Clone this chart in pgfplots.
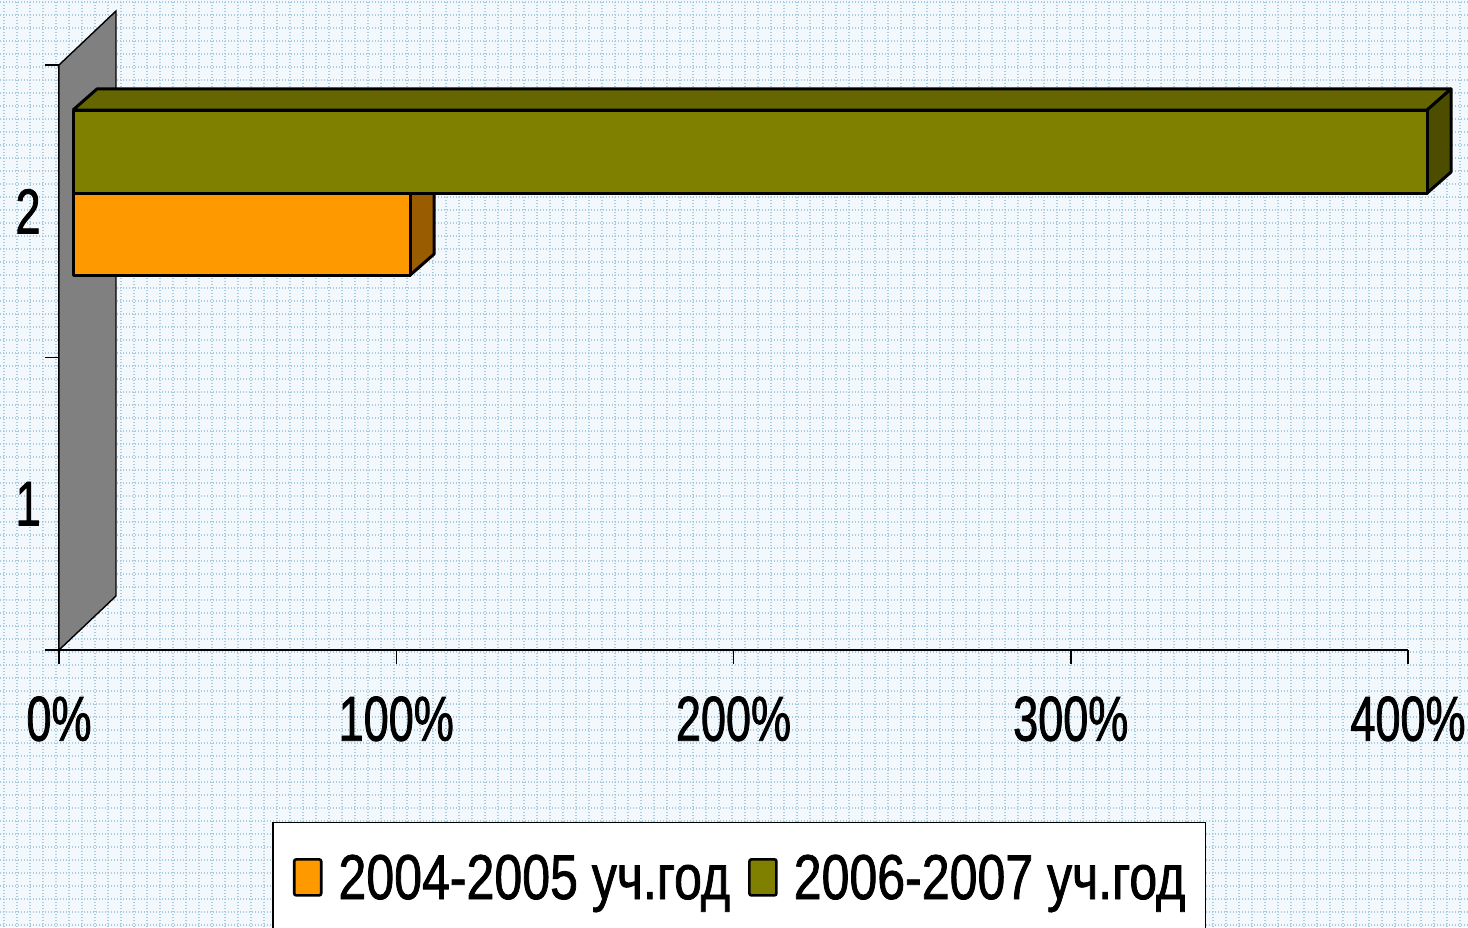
\documentclass[border=0pt]{standalone}
\usepackage{fontspec}
\setmainfont{Liberation Sans}[FakeStretch=0.79, FakeBold=1.2]
\newfontfamily\tickfamily{Liberation Sans}[FakeStretch=0.71, FakeBold=1.2]
\usepackage{pgfplots}
\pgfplotsset{compat=1.18}
\definecolor{bgc}{HTML}{F2F8FC}
\definecolor{gridc}{HTML}{A9CCE0}
\definecolor{orangeF}{HTML}{FF9900}
\definecolor{orangeS}{HTML}{995C00}
\definecolor{oliveF}{HTML}{808000}
\definecolor{oliveT}{HTML}{666600}
\definecolor{oliveS}{HTML}{4D4D00}
\definecolor{wallc}{HTML}{808080}
\newcommand{\bigf}{\fontsize{31.7pt}{38pt}\selectfont}
\newcommand{\tickf}{\tickfamily\fontsize{31.7pt}{38pt}\selectfont}
\begin{document}
\begin{tikzpicture}
\useasboundingbox (0,0) rectangle (734pt,463.5pt);
\clip (0,0) rectangle (734pt,463.5pt);
\fill[bgc] (0,0) rectangle (734pt,463.5pt);
\foreach \i in {0,...,113} \draw[gridc, line width=0.7pt, dash pattern=on 0.5pt off 1pt] (\i*6.5pt+2pt,0) -- (\i*6.5pt+2pt,463.5pt);
\foreach \j in {0,...,72} \draw[gridc, line width=0.7pt, dash pattern=on 0.5pt off 1pt] (0,\j*6.5pt+1pt) -- (734pt,\j*6.5pt+1pt);
\begin{axis}[
  at={(29.5pt,138.5pt)}, anchor=south west,
  scale only axis, width=674.5pt, height=292.5pt,
  xmin=0, xmax=400, ymin=0.5, ymax=2.5,
  clip=false,
  axis x line*=bottom, axis y line*=left,
  axis line style={black, line width=0.75pt},
  xtick={0,100,200,300,400},
  xticklabels={0\%,100\%,200\%,300\%,400\%},
  ytick={0.5,1.5,2.5}, yticklabels={},
  extra y ticks={1,2}, extra y tick labels={1,2},
  extra y tick style={major tick length=0pt},
  tick align=outside, major tick length=7pt,
  tick style={black, line width=0.75pt},
  /pgf/number format/assume math mode=true,
  tick label style={font=\tickf},
  xticklabel style={inner sep=0pt, yshift=-16pt},
  yticklabel style={inner sep=0pt, xshift=-9pt},
  legend image code/.code={\draw[#1, line width=1.3pt, rounded corners=1pt] (0pt,-8.5pt) rectangle (13.5pt,9.5pt);},
  legend columns=2,
  legend style={at={(0.158,-0.294)}, anchor=north west, draw=black, line width=0.75pt, fill=white,
    font=\bigf, inner xsep=10pt, inner ysep=16pt, nodes={inner sep=0pt},
    /tikz/every odd column/.append style={column sep=8pt},
    /tikz/every even column/.append style={column sep=9pt}},
]
% back wall
\addplot[forget plot, fill=wallc, draw=black, line width=0.7pt] coordinates {(0,0.5) (0,2.5) (16.9,2.6846) (16.9,0.6846) (0,0.5)};
% 2004-2005 bar
\addplot[forget plot, fill=orangeS, draw=black, line width=1.5pt, line join=round] coordinates {(104.15,2.062) (111.25,2.134) (111.25,1.854) (104.15,1.782) (104.15,2.062)};
\addplot[forget plot, xbar, bar width=41.5pt, bar shift=-11.4pt, fill=orangeF, draw=black, line width=1.5pt, line join=round, transform canvas={xshift=7pt}] coordinates {(100,2)};
% 2006-2007 bar
\addplot[forget plot, fill=oliveT, draw=black, line width=1.5pt, line join=round] coordinates {(4.15,2.346) (11.25,2.418) (412.75,2.418) (405.65,2.346) (4.15,2.346)};
\addplot[forget plot, fill=oliveS, draw=black, line width=1.5pt, line join=round] coordinates {(405.65,2.346) (412.75,2.418) (412.75,2.134) (405.65,2.062) (405.65,2.346)};
\addplot[forget plot, xbar, bar width=41.5pt, bar shift=29.8pt, fill=oliveF, draw=black, line width=1.5pt, line join=round, transform canvas={xshift=7pt}] coordinates {(401.5,2)};
\addlegendimage{fill=orangeF, draw=black}
\addlegendentry{2004-2005 уч.год}
\addlegendimage{fill=oliveF, draw=black}
\addlegendentry{2006-2007 уч.год}
\end{axis}
\end{tikzpicture}
\end{document}
